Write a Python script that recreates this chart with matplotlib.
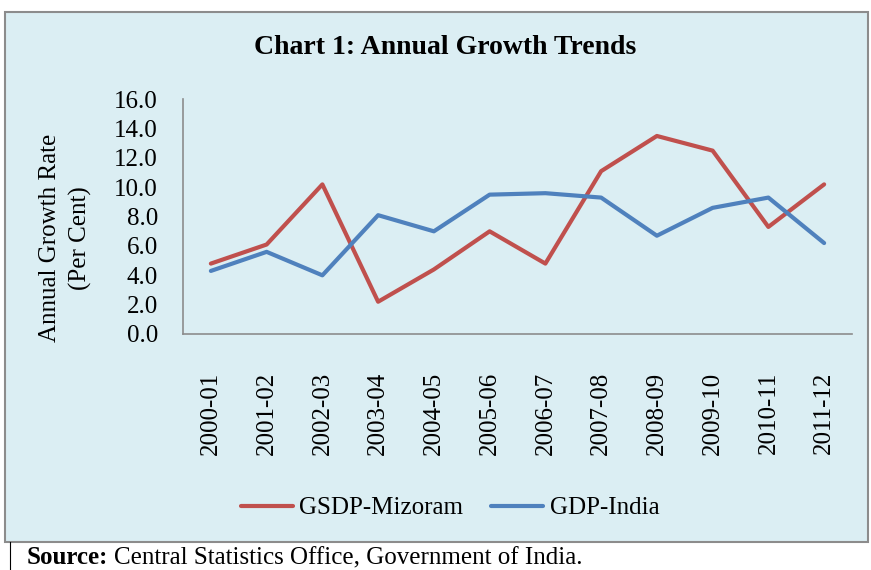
import numpy as np
import matplotlib.pyplot as plt
from matplotlib.patches import Rectangle
from matplotlib.lines import Line2D

plt.rcParams['font.family'] = 'Liberation Serif'

years = ['2000-01', '2001-02', '2002-03', '2003-04', '2004-05', '2005-06',
         '2006-07', '2007-08', '2008-09', '2009-10', '2010-11', '2011-12']
gsdp_mizoram = [4.8, 6.1, 10.2, 2.2, 4.4, 7.0, 4.8, 11.1, 13.5, 12.5, 7.3, 10.2]
gdp_india = [4.3, 5.6, 4.0, 8.1, 7.0, 9.5, 9.6, 9.3, 6.7, 8.6, 9.3, 6.2]

W, H = 871, 570
bg = '#dbeef3'
red = '#c0504d'
blue = '#4f81bd'
fs = 18

fig = plt.figure(figsize=(W / 100, H / 100), dpi=100)
fig.patch.set_facecolor('white')

# chart box
box = Rectangle((5 / W, 1 - 542 / H), 863 / W, 530 / H, transform=fig.transFigure,
                facecolor=bg, edgecolor='#8c8c8c', linewidth=1.5, zorder=-10)
fig.add_artist(box)
# left rule of the source table
fig.add_artist(Line2D([10 / W, 10 / W], [0, 1 - 542 / H], transform=fig.transFigure,
                      color='black', linewidth=0.8, zorder=-10))

ax = fig.add_axes([183 / W, 1 - 334 / H, 669 / W, 234.7 / H])
ax.set_facecolor(bg)
x = np.arange(len(years))
ax.plot(x, gsdp_mizoram, color=red, linewidth=3, label='GSDP-Mizoram', solid_capstyle='round')
ax.plot(x, gdp_india, color=blue, linewidth=3, label='GDP-India', solid_capstyle='round')

ax.set_xlim(-0.5, len(years) - 0.5)
ax.set_ylim(0, 16)
ax.set_yticks(np.arange(0, 16.1, 2))
ax.set_yticklabels(['%.1f' % v for v in np.arange(0, 16.1, 2)], fontsize=fs)
ax.set_xticks(x)
ax.set_xticklabels(years, rotation=90, fontsize=fs)
ax.tick_params(axis='both', length=0)
ax.tick_params(axis='y', pad=18)
ax.tick_params(axis='x', pad=27)
for s in ['top', 'right']:
    ax.spines[s].set_visible(False)
for s in ['left', 'bottom']:
    ax.spines[s].set_color('#8c8c8c')
    ax.spines[s].set_linewidth(1.2)

fig.text(50 / W, 1 - 238 / H, 'Annual Growth Rate', rotation=90, fontsize=fs,
         ha='center', va='center')
fig.text(80 / W, 1 - 238 / H, '(Per Cent)', rotation=90, fontsize=fs,
         ha='center', va='center')

fig.text(445 / W, 1 - 48 / H, 'Chart 1: Annual Growth Trends', fontsize=20,
         fontweight='bold', ha='center', va='center')

fig.legend(loc='center', bbox_to_anchor=(450 / W, 1 - 508 / H), ncol=2, frameon=False,
           fontsize=fs, handlelength=2.1, handletextpad=0.25, columnspacing=1.1)

src = fig.text(27 / W, 1 - 558 / H, 'Source:', fontsize=fs, fontweight='bold', va='center')
fig.canvas.draw()
bb = src.get_window_extent()
fig.text((bb.x1 + 6) / W, 1 - 558 / H, 'Central Statistics Office, Government of India.',
         fontsize=fs, va='center')

fig.savefig('out.png', dpi=100)
